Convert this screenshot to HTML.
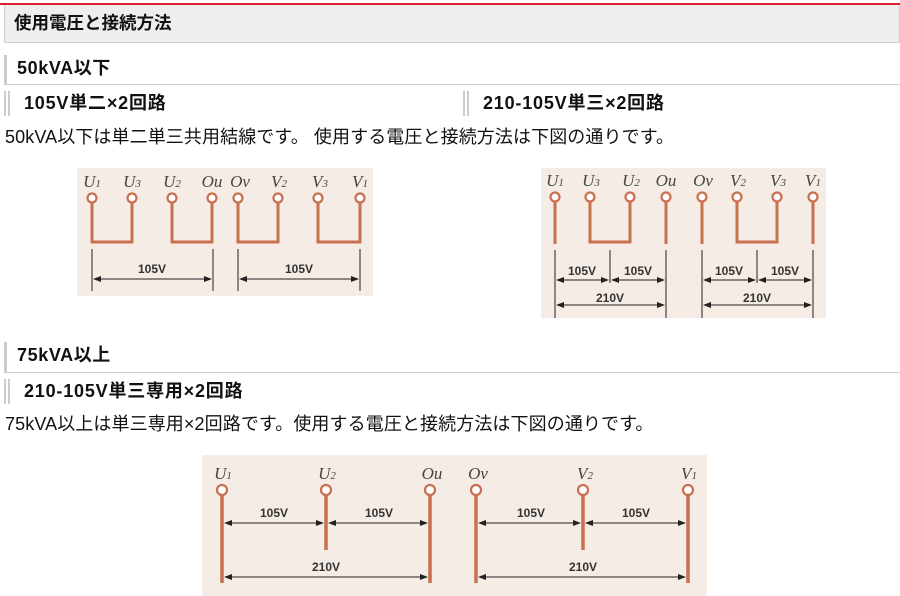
<!DOCTYPE html>
<html><head><meta charset="utf-8"><style>
body{margin:0;width:900px;height:596px;background:#fff;position:relative;overflow:hidden;font-family:"Liberation Sans","Noto Sans CJK JP",sans-serif;color:#111}
.a{position:absolute;white-space:nowrap}
.h1{left:4px;top:5px;width:894px;height:37px;background:#eee;border:1px solid #ccc;border-top:none;font-weight:bold;font-size:17.5px;line-height:37px;text-indent:9px}
.h2{left:4px;width:896px;border-left:3px solid #ccc;border-bottom:1px solid #ccc;font-weight:bold;font-size:18px;letter-spacing:0.6px;text-indent:10px}
.h3{border-left:6px double #ccc;font-weight:bold;font-size:18px;letter-spacing:0.8px;padding-left:14px;height:25px;line-height:25px}
.p{left:5px;font-size:18px;letter-spacing:0.1px}
svg text{font-family:"Liberation Serif",serif;font-style:italic}
</style></head><body>
<div class="a" style="left:0;top:3px;width:900px;height:2px;background:#e0202e"></div>
<div class="a h1">使用電圧と接続方法</div>
<div class="a h2" style="top:55px;height:29px;line-height:27px">50kVA以下</div>
<div class="a h3" style="left:4px;top:91px">105V単二×2回路</div>
<div class="a h3" style="left:463px;top:91px">210-105V単三×2回路</div>
<div class="a p" style="top:123px">50kVA以下は単二単三共用結線です。 使用する電圧と接続方法は下図の通りです。</div>
<div class="a h2" style="top:342px;height:30px;line-height:27px">75kVA以上</div>
<div class="a h3" style="left:4px;top:379px">210-105V単三専用×2回路</div>
<div class="a p" style="top:410px">75kVA以上は単三専用×2回路です。使用する電圧と接続方法は下図の通りです。</div>

<svg class="a" style="left:0;top:0" width="900" height="596">
<defs>
<marker id="ae" markerWidth="8" markerHeight="6" refX="7" refY="3" orient="auto" markerUnits="userSpaceOnUse"><path d="M0,0L8,3L0,6z" fill="#222"/></marker>
<marker id="as" markerWidth="8" markerHeight="6" refX="1" refY="3" orient="auto" markerUnits="userSpaceOnUse"><path d="M8,0L0,3L8,6z" fill="#222"/></marker>
</defs>
<g>
<rect x="77" y="168" width="296" height="128" fill="#f5ece5"/>
<rect x="541" y="168" width="285" height="150" fill="#f5ece5"/>
<rect x="202" y="455" width="505" height="141" fill="#f5ece5"/>
</g>
<g fill="none" stroke="#c8704f" stroke-width="3">
<path d="M92,202V242H132V202M172,202V242H212V202M238,202V242H278V202M318,202V242H360V202"/>
<path d="M555,201V244M666,201V244M702,201V244M813,201V244M590,201V242H630V201M737,201V242H777V201"/>
<path d="M222,494V583M430,494V583M476,494V583M688,494V583" stroke-width="3.5"/>
<path d="M326,494V550M583,494V550" stroke-width="3.5"/>
</g>
<g fill="#fff" stroke="#c8704f" stroke-width="2.2">
<circle cx="92" cy="198" r="4.5"/><circle cx="132" cy="198" r="4.5"/><circle cx="172" cy="198" r="4.5"/><circle cx="212" cy="198" r="4.5"/><circle cx="238" cy="198" r="4.5"/><circle cx="278" cy="198" r="4.5"/><circle cx="318" cy="198" r="4.5"/><circle cx="360" cy="198" r="4.5"/>
<circle cx="555" cy="197" r="4.5"/><circle cx="590" cy="197" r="4.5"/><circle cx="630" cy="197" r="4.5"/><circle cx="666" cy="197" r="4.5"/><circle cx="702" cy="197" r="4.5"/><circle cx="737" cy="197" r="4.5"/><circle cx="777" cy="197" r="4.5"/><circle cx="813" cy="197" r="4.5"/>
<circle cx="222" cy="490" r="5"/><circle cx="326" cy="490" r="5"/><circle cx="430" cy="490" r="5"/><circle cx="476" cy="490" r="5"/><circle cx="583" cy="490" r="5"/><circle cx="688" cy="490" r="5"/>
</g>
<g stroke="#222" stroke-width="1" fill="none">
<path d="M92,249V291M213,249V291M238,249V291M360,249V291M555,250V318M666,250V318M610,250V283M702,250V318M813,250V318M757,250V283"/>
</g>
<g stroke="#222" stroke-width="1" fill="none" marker-start="url(#as)" marker-end="url(#ae)">
<line x1="94" y1="279" x2="211" y2="279"/><line x1="240" y1="279" x2="358" y2="279"/>
<line x1="557" y1="280" x2="608" y2="280"/><line x1="612" y1="280" x2="664" y2="280"/><line x1="704" y1="280" x2="755" y2="280"/><line x1="759" y1="280" x2="811" y2="280"/>
<line x1="557" y1="305" x2="664" y2="305"/><line x1="704" y1="305" x2="811" y2="305"/>
<line x1="225" y1="523" x2="323" y2="523"/><line x1="329" y1="523" x2="427" y2="523"/><line x1="479" y1="523" x2="580" y2="523"/><line x1="586" y1="523" x2="685" y2="523"/>
<line x1="225" y1="577" x2="427" y2="577"/><line x1="479" y1="577" x2="685" y2="577"/>
</g>
<g font-size="12" font-weight="bold" fill="#333" text-anchor="middle">
<text x="152" y="273" style="font-style:normal;font-family:'Liberation Sans'">105V</text>
<text x="299" y="273" style="font-style:normal;font-family:'Liberation Sans'">105V</text>
<text x="582" y="275" style="font-style:normal;font-family:'Liberation Sans'">105V</text>
<text x="638" y="275" style="font-style:normal;font-family:'Liberation Sans'">105V</text>
<text x="729" y="275" style="font-style:normal;font-family:'Liberation Sans'">105V</text>
<text x="785" y="275" style="font-style:normal;font-family:'Liberation Sans'">105V</text>
<text x="610" y="302" style="font-style:normal;font-family:'Liberation Sans'">210V</text>
<text x="757" y="302" style="font-style:normal;font-family:'Liberation Sans'">210V</text>
<text x="274" y="517" style="font-style:normal;font-family:'Liberation Sans'">105V</text>
<text x="379" y="517" style="font-style:normal;font-family:'Liberation Sans'">105V</text>
<text x="531" y="517" style="font-style:normal;font-family:'Liberation Sans'">105V</text>
<text x="636" y="517" style="font-style:normal;font-family:'Liberation Sans'">105V</text>
<text x="326" y="571" style="font-style:normal;font-family:'Liberation Sans'">210V</text>
<text x="583" y="571" style="font-style:normal;font-family:'Liberation Sans'">210V</text>
</g>
<g font-size="17" fill="#444" text-anchor="middle">
<text x="92" y="187">U<tspan font-size="11">1</tspan></text><text x="132" y="187">U<tspan font-size="11">3</tspan></text><text x="172" y="187">U<tspan font-size="11">2</tspan></text><text x="212" y="187">Ou</text><text x="240" y="187">Ov</text><text x="279" y="187">V<tspan font-size="11">2</tspan></text><text x="320" y="187">V<tspan font-size="11">3</tspan></text><text x="360" y="187">V<tspan font-size="11">1</tspan></text>
<text x="555" y="186">U<tspan font-size="11">1</tspan></text><text x="591" y="186">U<tspan font-size="11">3</tspan></text><text x="631" y="186">U<tspan font-size="11">2</tspan></text><text x="666" y="186">Ou</text><text x="703" y="186">Ov</text><text x="738" y="186">V<tspan font-size="11">2</tspan></text><text x="778" y="186">V<tspan font-size="11">3</tspan></text><text x="813" y="186">V<tspan font-size="11">1</tspan></text>
<text x="223" y="479">U<tspan font-size="11">1</tspan></text><text x="327" y="479">U<tspan font-size="11">2</tspan></text><text x="432" y="479">Ou</text><text x="478" y="479">Ov</text><text x="585" y="479">V<tspan font-size="11">2</tspan></text><text x="689" y="479">V<tspan font-size="11">1</tspan></text>
</g>
</svg>
</body></html>
